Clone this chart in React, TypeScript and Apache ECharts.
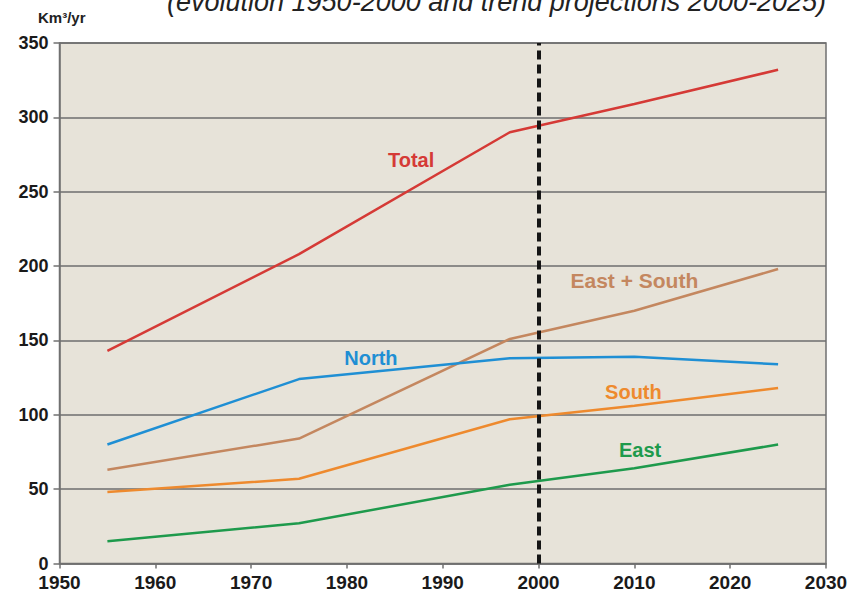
import React, { useEffect, useRef } from "react";
import * as echarts from "echarts";

const xTicks = [1950, 1960, 1970, 1980, 1990, 2000, 2010, 2020, 2030];
const yTicks = [0, 50, 100, 150, 200, 250, 300, 350];

const totalYears = [1955, 1975, 1997, 2010, 2025];
const totalValues = [143, 208, 290, 309, 332];

const eastSouthYears = [1955, 1975, 1997, 2010, 2025];
const eastSouthValues = [63, 84, 151, 170, 198];

const northYears = [1955, 1975, 1997, 2010, 2025];
const northValues = [80, 124, 138, 139, 134];

const southYears = [1955, 1975, 1997, 2010, 2025];
const southValues = [48, 57, 97, 106, 118];

const eastYears = [1955, 1975, 1997, 2010, 2025];
const eastValues = [15, 27, 53, 64, 80];

const seriesNames = ["Total", "East + South", "North", "South", "East"];
const labelYears = [1986.7, 2010.0, 1982.5, 2009.9, 2010.6];
const labelValues = [271, 190, 138.5, 115.5, 76.5];

const dividerYear = 2000;
const titleText = "(evolution 1950-2000 and trend projections 2000-2025)";
const unitText = "Km³/yr";

const colors = ["#D53A36", "#C4875F", "#1F8FD4", "#EE8A2E", "#1E9A4C"];

const pairs = (xs: number[], ys: number[]) => xs.map((x, i) => [x, ys[i]]);

export default function App() {
  const ref = useRef<HTMLDivElement>(null);
  useEffect(() => {
    if (!ref.current) return;
    const chart = echarts.init(ref.current, null, { renderer: "svg" });
    const dataSets = [
      pairs(totalYears, totalValues),
      pairs(eastSouthYears, eastSouthValues),
      pairs(northYears, northValues),
      pairs(southYears, southValues),
      pairs(eastYears, eastValues),
    ];
    const series: any[] = dataSets.map((d, i) => ({
      type: "line",
      name: seriesNames[i],
      data: d,
      symbol: "none",
      lineStyle: { color: colors[i], width: 2.5 },
      z: 3,
      markPoint: {
        symbol: "circle",
        symbolSize: 0,
        silent: true,
        data: [
          {
            coord: [labelYears[i], labelValues[i]],
            label: {
              show: true,
              formatter: seriesNames[i],
              position: "inside",
              color: colors[i],
              fontFamily: "Liberation Sans, Arial, sans-serif",
              fontWeight: "bold",
              fontSize: i === 1 ? 21 : 20,
            },
          },
        ],
      },
    }));
    series.push({
      type: "line",
      data: [],
      markLine: {
        silent: true,
        symbol: ["none", "none"],
        label: { show: false },
        lineStyle: { color: "#151515", width: 4, type: [9, 5] },
        data: [{ xAxis: dividerYear }],
      },
      z: 4,
    });
    chart.setOption({
      animation: false,
      backgroundColor: "#ffffff",
      grid: {
        left: 59.5,
        right: 29,
        top: 43,
        bottom: 28.5,
        show: true,
        backgroundColor: "#E7E3D9",
        borderColor: "#707070",
        borderWidth: 1.5,
      },
      graphic: [
        {
          type: "text",
          left: 167,
          top: -12,
          style: {
            text: titleText,
            fontFamily: "Liberation Sans, Arial, sans-serif",
            fontStyle: "italic",
            fontSize: 27,
            fill: "#222",
          },
        },
        {
          type: "text",
          left: 38,
          top: 10,
          style: {
            text: unitText,
            fontFamily: "Liberation Sans, Arial, sans-serif",
            fontWeight: "bold",
            fontSize: 15,
            fill: "#222",
          },
        },
      ],
      xAxis: {
        type: "value",
        min: xTicks[0],
        max: xTicks[xTicks.length - 1],
        interval: 10,
        axisLine: { show: true, lineStyle: { color: "#707070", width: 1.5 } },
        axisTick: { show: true, length: 5, lineStyle: { color: "#707070", width: 1.5 } },
        splitLine: { show: false },
        axisLabel: {
          margin: 9,
          color: "#1a1a1a",
          fontFamily: "Liberation Sans, Arial, sans-serif",
          fontWeight: "bold",
          fontSize: 19,
          formatter: (v: number) => String(v),
        },
      },
      yAxis: {
        type: "value",
        min: yTicks[0],
        max: yTicks[yTicks.length - 1],
        interval: 50,
        axisLine: { show: true, lineStyle: { color: "#707070", width: 1.5 } },
        axisTick: { show: true, length: 6, lineStyle: { color: "#707070", width: 1.5 } },
        splitLine: { show: true, lineStyle: { color: "#6e6e6e", width: 1.5 } },
        axisLabel: {
          margin: 11,
          color: "#1a1a1a",
          fontFamily: "Liberation Sans, Arial, sans-serif",
          fontWeight: "bold",
          fontSize: 18,
        },
      },
      series,
    });
    return () => chart.dispose();
  }, []);
  return <div ref={ref} style={{ width: 855, height: 592, position: "fixed", left: 0, top: 0 }} />;
}
